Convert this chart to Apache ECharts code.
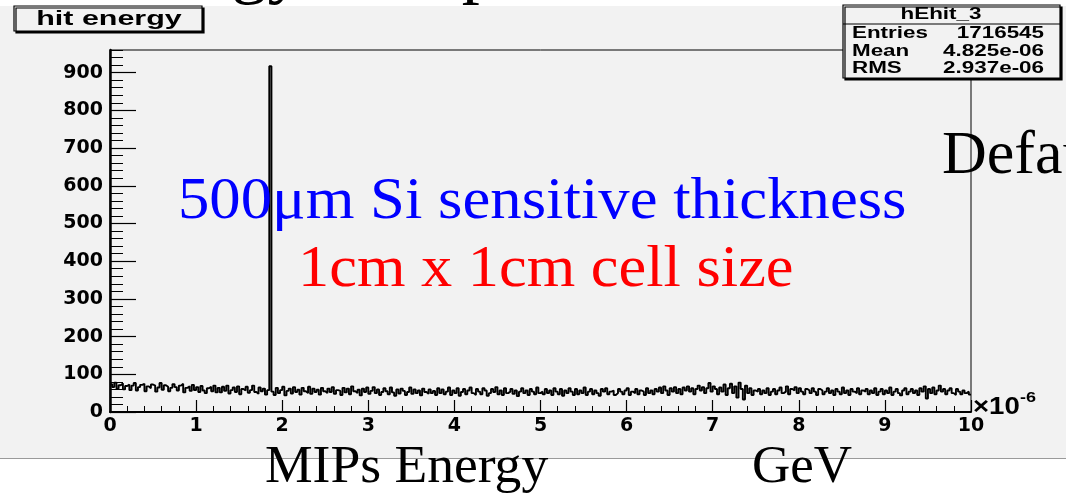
<!DOCTYPE html>
<html>
<head>
<meta charset="utf-8">
<script src="https://cdn.jsdelivr.net/npm/echarts@6/dist/echarts.min.js"></script>
<style>
  html, body { margin: 0; padding: 0; background: #ffffff; width: 1066px; height: 497px; overflow: hidden; }
  #pad { position: absolute; left: 0; top: 6px; width: 1066px; height: 452px; background: #f2f2f2; border-bottom: 1px solid #9a9a9a; }
  #chart { position: absolute; left: 0; top: 0; width: 1066px; height: 497px; }
</style>
</head>
<body>
<div id="pad"></div>
<div id="chart"></div>
<script>
// Histogram binning (x in units of 1e-6 GeV)
const binLow = 0;
const binWidth = 0.025;

// Entries per bin
const counts = [
  74,66,78,62,71,76,60,69,73,58,70,77,57,66,72,75,55,68,63,73,70,54,65,77,59,71,67,55,64,74,66,57,70,75,52,64,68,56,72,58,66,53,69,57,50,63,67,55,70,52,
  64,52,67,56,70,49,58,65,53,68,47,61,57,67,51,58,70,53,48,65,55,62,46,58,917,54,45,64,50,58,67,44,56,62,49,66,53,59,46,64,55,50,67,48,62,53,59,46,64,55,
  50,62,53,66,48,58,56,45,64,52,62,47,68,55,50,59,44,62,53,65,48,56,66,50,60,45,53,63,55,47,65,52,43,60,49,62,56,45,53,65,48,60,50,57,44,62,53,48,60,50,
  56,45,63,50,60,47,54,65,45,57,50,63,43,53,61,47,57,65,50,45,61,54,47,63,57,43,50,61,53,66,47,57,45,63,50,54,61,48,57,42,54,63,50,57,45,61,54,47,65,50,
  54,47,61,50,57,45,63,54,47,61,43,57,50,63,54,45,61,47,57,50,65,45,54,61,47,57,50,43,61,54,63,47,54,57,45,50,61,54,47,57,63,45,54,50,61,47,57,54,45,63,
  50,57,47,61,54,65,50,68,57,45,63,54,66,50,61,47,65,57,68,54,63,47,61,70,57,66,50,63,77,54,68,61,47,65,54,73,45,63,75,50,68,38,78,61,33,70,50,63,45,57,
  54,61,47,57,50,63,45,54,61,47,57,65,50,54,68,47,61,57,66,50,63,54,47,61,57,50,63,54,45,61,57,47,54,63,50,57,45,61,54,47,65,50,57,45,61,54,50,63,47,57,
  54,61,47,57,50,63,45,54,61,47,57,50,65,45,54,61,50,44,57,63,47,54,61,50,57,45,63,54,68,36,61,50,65,47,57,70,54,61,47,57,63,50,45,61,54,47,57,50,54,46
];

// Axis ranges
const xRange = [0, 10];
const yRange = [0, 960];

// Statistics box
const statsTitle = 'hEhit_3';
const statsRows = [
  ['Entries', '1716545'],
  ['Mean', '4.825e-06'],
  ['RMS', '2.937e-06']
];

const histTitle = 'hit energy';
const noteLine1 = '500\u03bcm Si sensitive thickness';
const noteLine2 = '1cm x 1cm cell size';
const xTitle = 'MIPs Energy';
const xUnit = 'GeV';

// Step outline: each bin drawn from its left edge to the next edge
const histPoints = counts.map((c, i) => [binLow + i * binWidth, c]);
histPoints.push([binLow + counts.length * binWidth, counts[counts.length - 1]]);

const boldSans = 'Liberation Sans';
const labelFont = { fontFamily: 'DejaVu Sans', fontWeight: 'bold', fontSize: 19, color: '#000' };

const chart = echarts.init(document.getElementById('chart'), null, { renderer: 'canvas' });

function statsText(x, y, text, align, size) {
  return {
    type: 'text', x: x, y: y, scaleX: 1.4, z: 110,
    style: { text: text, align: align, verticalAlign: 'middle', fill: '#000',
             font: 'bold ' + size + 'px "' + boldSans + '"' }
  };
}

function serifText(x, y, text, color, size, sx) {
  return {
    type: 'text', x: x, y: y, scaleX: sx, z: 90,
    style: { text: text, align: 'left', verticalAlign: 'middle', fill: color,
             font: size + 'px "Liberation Serif"' }
  };
}

const graphics = [
  // heading of the page (mostly above the view)
  serifText(97, -29, 'Energy Comparison', '#000', 72, 1),
  // title box
  { type: 'rect', shape: { x: 14, y: 6, width: 188, height: 25 }, z: 100,
    style: { fill: '#f2f2f2', stroke: '#000', lineWidth: 1.2,
             shadowColor: '#000', shadowOffsetX: 2, shadowOffsetY: 2, shadowBlur: 0 } },
  { type: 'text', x: 109, y: 19, scaleX: 1.45, z: 110,
    style: { text: histTitle, align: 'center', verticalAlign: 'middle', fill: '#000',
             font: 'bold 21px "' + boldSans + '"' } },
  // statistics box
  { type: 'rect', shape: { x: 843, y: 5, width: 217, height: 73 }, z: 100,
    style: { fill: '#f2f2f2', stroke: '#000', lineWidth: 1.2,
             shadowColor: '#000', shadowOffsetX: 2, shadowOffsetY: 2, shadowBlur: 0 } },
  { type: 'line', shape: { x1: 843, y1: 24, x2: 1060, y2: 24 }, z: 105,
    style: { stroke: '#000', lineWidth: 1 } },
  statsText(941, 15, statsTitle, 'center', 16),
  // multiplier of the x axis
  { type: 'text', x: 973, y: 408, scaleX: 1.2, z: 110,
    style: { text: '\u00d710', align: 'left', verticalAlign: 'middle', fill: '#000',
             font: 'bold 23px "' + boldSans + '"' } },
  { type: 'text', x: 1020, y: 398, scaleX: 1.2, z: 110,
    style: { text: '-6', align: 'left', verticalAlign: 'middle', fill: '#000',
             font: 'bold 15px "' + boldSans + '"' } },
  // annotations
  serifText(178, 202, noteLine1, '#0000ff', 60, 1.045),
  serifText(298, 270, noteLine2, '#ff0000', 60, 1.04),
  serifText(942, 157, 'Default', '#000', 62, 1),
  serifText(265, 468, xTitle, '#000', 52, 1.03),
  serifText(752, 468, xUnit, '#000', 52, 1.02)
];
statsRows.forEach((row, i) => {
  const y = 34 + i * 17.5;
  graphics.push(statsText(852, y, row[0], 'left', 16));
  graphics.push(statsText(1044, y, row[1], 'right', 16));
});

chart.setOption({
  backgroundColor: 'transparent',
  animation: false,
  grid: {
    left: 110, right: 95, top: 50, bottom: 85,
    show: true, borderColor: '#000', borderWidth: 1, backgroundColor: 'transparent'
  },
  xAxis: {
    type: 'value', min: xRange[0], max: xRange[1], interval: 1,
    axisLine: { show: true, onZero: false, lineStyle: { color: '#000', width: 2 } },
    axisTick: { show: true, inside: true, length: 12, lineStyle: { color: '#000', width: 1.2 } },
    minorTick: { show: true, splitNumber: 5, length: 6, lineStyle: { color: '#000', width: 1 } },
    axisLabel: Object.assign({ margin: 5, showMinLabel: true, showMaxLabel: true }, labelFont),
    splitLine: { show: false }, minorSplitLine: { show: false }
  },
  yAxis: [
    {
      type: 'value', min: yRange[0], max: yRange[1], interval: 100, position: 'left',
      axisLine: { show: true, onZero: false, lineStyle: { color: '#000', width: 2.5 } },
      axisTick: { show: true, inside: true, length: 26, lineStyle: { color: '#000', width: 1.2 } },
      axisLabel: Object.assign({ margin: 7, showMaxLabel: false }, labelFont),
      splitLine: { show: false }
    },
    {
      type: 'value', min: yRange[0], max: yRange[1], interval: 20, position: 'left',
      axisLine: { show: false },
      axisTick: { show: true, inside: true, length: 13, lineStyle: { color: '#000', width: 1 } },
      axisLabel: { show: false },
      splitLine: { show: false }
    }
  ],
  series: [{
    type: 'line', step: 'end', yAxisIndex: 0, data: histPoints,
    symbol: 'none', clip: true,
    lineStyle: { color: '#000', width: 1.9 }, z: 5
  }],
  graphic: graphics
});
</script>
</body>
</html>
